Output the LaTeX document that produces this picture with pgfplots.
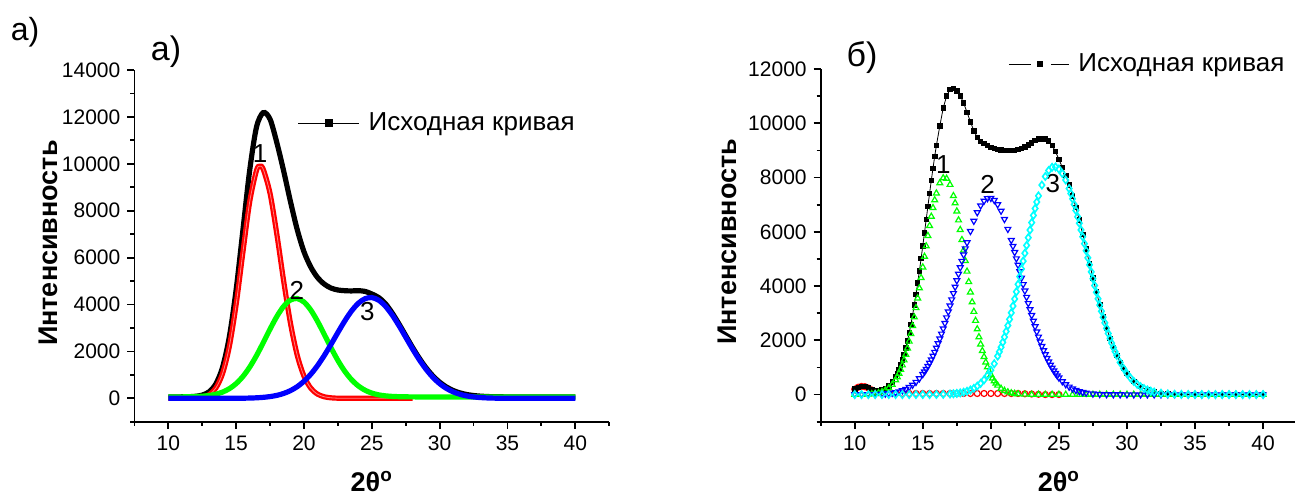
\documentclass[border=0pt]{standalone}
\usepackage{pgfplots}
\pgfplotsset{compat=1.18}
\usepackage{pgfplotstable}
\usepackage{fontspec}
\setmainfont{Liberation Sans}
\definecolor{cR}{RGB}{255,0,0}
\definecolor{cG}{RGB}{0,255,0}
\definecolor{cB}{RGB}{0,0,255}
\definecolor{cC}{RGB}{0,255,255}

% ---------- left panel data ----------
\pgfplotstableread{
x y
10 0
10.5 0
11 1
11.5 3
12 12
12.5 47
13 154
13.5 435
14 1057
14.5 2214
15 4000
15.5 6235
16 8382
16.5 9719
16.75 9900
17 9763
17.5 8737
18 6996
18.5 5012
19 3215
19.5 1843
20 947
20.5 435
21 179
21.5 66
22 22
22.5 6
23 2
24 0
26 0
28 0
}\redL

\pgfplotstableread{
x y
10 60
10.5 61
11 63
11.5 67
12 75
12.5 91
13 121
13.5 175
14 267
14.5 412
15 628
15.5 933
16 1333
16.5 1822
17 2377
17.5 2953
18 3490
18.5 3923
19 4191
19.5 4256
20 4107
20.5 3767
21 3284
21.5 2723
22 2149
22.5 1616
23 1161
23.5 800
24 532
24.5 346
25 224
25.5 150
26 107
26.5 83
27 71
27.5 65
28 62
28.5 61
29 60
30 60
35 60
40 60
}\greenL

\pgfplotstableread{
x y
10 0
12 0
14 1
15 3
15.5 6
16 12
16.5 23
17 43
17.5 75
18 127
18.5 208
19 328
19.5 497
20 728
20.5 1027
21 1396
21.5 1829
22 2308
22.5 2808
23 3293
23.5 3720
24 4050
24.5 4249
25 4297
25.5 4187
26 3932
26.5 3558
27 3103
27.5 2608
28 2112
28.5 1649
29 1240
29.5 899
30 628
30.5 423
31 274
31.5 172
32 103
32.5 60
33 34
33.5 18
34 9
34.5 4
35 2
36 0
38 0
40 0
}\blueL

\pgfplotstableread{
x y
10 60
10.5 61
11 64
11.5 70
12 87
12.5 138
13 275
13.5 610
14 1324
14.5 2626
15 4631
15.5 7174
16 9727
16.5 11564
17 12183
17.5 11900
18 10900
18.5 9700
19 8400
19.5 7200
20 6250
20.5 5600
21 5150
21.5 4870
22 4700
22.5 4620
23 4590
23.5 4580
24 4590
24.5 4560
25 4450
25.5 4300
26 4039
26.5 3641
27 3174
27.5 2673
28 2174
28.5 1710
29 1300
29.5 959
30 688
30.5 483
31 334
31.5 232
32 163
32.5 120
33 94
33.5 78
34 69
35 62
36 60
40 60
}\blackL

% ---------- right panel data ----------
\pgfplotstableread{
x y
10 200
10.25 270
10.5 300
10.75 290
11 240
11.25 170
11.5 110
11.75 70
12 50
12.5 40
13 40
13.5 40
14 40
14.5 40
15 40
15.5 40
16 40
16.5 40
17 40
17.5 40
18 40
18.5 40
19 40
19.5 40
20 40
20.5 40
21 40
21.5 40
22 40
22.5 30
23 20
23.5 10
24 0
24.5 0
25 0
}\redR

\pgfplotstableread{
x y
10 202
10.25 273
10.5 306
10.75 300
11 256
11.25 197
11.5 155
11.75 144
12 168
12.25 230
12.5 323
12.75 464
13 659
13.125 783
13.25 925
13.375 1088
13.5 1274
13.625 1483
13.75 1718
13.875 1981
14 2269
14.125 2586
14.25 2930
14.375 3300
14.5 3696
14.625 4116
14.75 4555
14.875 5012
15 5487
15.125 5968
15.25 6454
15.375 6942
15.5 7423
15.625 7895
15.75 8349
15.875 8781
16 9188
16.25 9902
16.5 10563
16.75 11005
17 11252
17.25 11288
17.5 11198
17.75 11010
18 10751
18.25 10407
18.5 10057
18.75 9725
19 9480
19.25 9340
19.5 9260
19.75 9190
20 9120
20.25 9070
20.5 9040
20.75 9015
21 9000
21.25 8995
21.5 8995
21.75 9010
22 9040
22.25 9075
22.5 9125
22.75 9200
23 9284
23.25 9365
23.5 9419
23.75 9431
24 9429
24.25 9359
24.5 9182
24.75 8958
25 8675
25.25 8375
25.5 8083
25.75 7731
26 7332
26.25 6897
26.5 6435
26.75 5904
27 5365
27.25 4828
27.5 4302
27.75 3794
28 3314
28.25 2863
28.5 2450
28.75 2076
29 1740
29.25 1443
29.5 1185
29.75 964
30 775
30.5 487
31 293
31.5 170
32 94
32.5 51
33 26
33.5 13
34 7
35 0
36 0
37 0
38 0
39 0
40 0
}\blackR

\pgfplotstableread{
x y
10 1
10.5 4
11 12
11.25 21
11.5 36
11.75 60
12 98
12.25 156
12.5 242
12.75 366
13 539
13.125 648
13.25 774
13.375 918
13.5 1083
13.625 1268
13.75 1475
13.875 1706
14 1959
14.125 2236
14.25 2535
14.375 2855
14.5 3195
14.625 3553
14.75 3924
14.875 4306
15 4696
15.125 5087
15.25 5474
15.375 5854
15.5 6219
15.625 6564
15.75 6883
15.875 7171
16 7422
16.25 7798
16.5 7983
16.75 7963
17 7738
17.25 7326
17.375 7060
17.5 6759
17.625 6429
17.75 6075
17.875 5704
18 5320
18.125 4930
18.25 4540
18.375 4153
18.5 3774
18.625 3408
18.75 3057
18.875 2725
19 2413
19.125 2122
19.25 1855
19.375 1611
19.5 1390
19.625 1191
19.75 1014
19.875 858
20 722
20.125 603
20.25 500
20.375 412
20.5 338
20.75 222
21 142
21.25 89
21.5 54
21.75 32
22 18
22.5 5
23 1
23.5 0
24 0
24.5 0
25 0
25.5 0
26 0
26.5 0
27 0
27.5 0
28 0
28.5 0
29 0
29.5 0
30 0
30.5 0
31 0
31.5 0
32 0
32.5 0
33 0
33.5 0
34 0
34.5 0
35 0
35.5 0
36 0
36.5 0
37 0
37.5 0
38 0
38.5 0
39 0
39.5 0
40 0
}\greenR

\pgfplotstableread{
x y
10 1
10.5 2
11 4
11.5 9
12 20
12.25 29
12.5 41
12.75 58
13 80
13.25 111
13.5 151
13.75 203
14 270
14.25 355
14.5 461
14.75 591
15 750
15.125 840
15.25 939
15.375 1047
15.5 1163
15.625 1289
15.75 1424
15.875 1567
16 1722
16.125 1886
16.25 2058
16.375 2240
16.5 2431
16.625 2630
16.75 2838
16.875 3053
17 3274
17.125 3502
17.25 3733
17.375 3969
17.5 4206
17.625 4445
17.75 4684
17.875 4921
18 5154
18.125 5383
18.25 5605
18.5 6024
18.75 6398
19 6716
19.25 6967
19.5 7141
19.75 7235
20 7243
20.25 7167
20.5 7007
20.75 6772
21 6466
21.25 6102
21.5 5692
21.625 5473
21.75 5246
21.875 5015
22 4779
22.125 4541
22.25 4301
22.375 4064
22.5 3827
22.625 3594
22.75 3365
22.875 3141
23 2923
23.125 2713
23.25 2510
23.375 2316
23.5 2130
23.625 1953
23.75 1786
23.875 1628
24 1480
24.125 1341
24.25 1212
24.375 1092
24.5 981
24.625 879
24.75 785
24.875 699
25 620
25.25 484
25.5 374
25.75 286
26 215
26.25 160
26.5 118
26.75 86
27 62
27.5 31
28 15
28.5 7
29 3
29.5 1
30 0
30.5 0
31 0
31.5 0
32 0
32.5 0
33 0
33.5 0
34 0
34.5 0
35 0
35.5 0
36 0
36.5 0
37 0
37.5 0
38 0
38.5 0
39 0
39.5 0
40 0
}\blueR

\pgfplotstableread{
x y
10 0
10.5 0
11 0
11.5 0
12 0
12.5 0
13 0
13.5 0
14 0
14.5 0
15 1
15.5 1
16 4
16.5 9
17 20
17.25 29
17.5 43
17.75 61
18 87
18.25 122
18.5 169
18.75 230
19 311
19.25 413
19.5 542
19.75 703
20 900
20.25 1137
20.5 1418
20.625 1576
20.75 1746
20.875 1927
21 2121
21.125 2327
21.25 2544
21.375 2774
21.5 3014
21.625 3264
21.75 3524
21.875 3791
22 4066
22.125 4348
22.25 4633
22.375 4921
22.5 5211
22.625 5499
22.75 5785
22.875 6066
23 6341
23.125 6606
23.25 6860
23.375 7101
23.5 7327
23.75 7725
24 8041
24.25 8262
24.5 8381
24.75 8393
25 8315
25.25 8151
25.5 7909
25.75 7595
25.875 7413
26 7217
26.125 7008
26.25 6787
26.375 6556
26.5 6317
26.625 6070
26.75 5818
26.875 5562
27 5303
27.125 5042
27.25 4783
27.375 4525
27.5 4271
27.625 4019
27.75 3772
27.875 3532
28 3299
28.125 3072
28.25 2853
28.375 2644
28.5 2443
28.625 2252
28.75 2071
28.875 1899
29 1737
29.125 1584
29.25 1441
29.5 1184
29.75 963
30 774
30.25 617
30.5 486
30.75 379
31 292
31.25 223
31.5 169
31.75 126
32 93
32.5 50
33 25
33.5 12
34 6
34.5 3
35 1
35.5 0
36 0
36.5 0
37 0
37.5 0
38 0
38.5 0
39 0
39.5 0
40 0
}\cyanR

\tikzset{numlab/.style={font=\fontsize{13}{15}\selectfont, inner sep=0pt}}

\pgfplotsset{
  panel/.style={
    scale only axis,
    anchor=south west,
    axis x line*=bottom, axis y line*=left,
    xmin=7.5, xmax=42.5, ymin=-1000,
    xtick={10,15,...,40},
    minor xtick={7.5,12.5,...,42.5},
    tick align=outside,
    major tick length=3.5pt, minor tick length=2pt,
    axis line style={line width=0.9pt},
    every tick/.style={black, line width=0.9pt},
    every minor tick/.style={black, line width=0.9pt},
    scaled ticks=false,
    /pgf/number format/1000 sep={},
    /pgf/number format/assume math mode=true,
    tick label style={font=\fontsize{10.5}{12}\selectfont},
    xlabel={2θ\textsuperscript{o}},
    ylabel={Интенсивность},
    clip=false,
    legend style={draw=none, fill=none, anchor=west, inner xsep=0pt, inner ysep=0pt,
      nodes={inner sep=0pt}, column sep=4.5pt, font=\fontsize{13}{15}\selectfont},
  },
}

\begin{document}
\begin{tikzpicture}
\path[use as bounding box] (0,0) rectangle (647.5pt,248.5pt);

\node[font=\fontsize{16}{18}\selectfont, inner sep=0pt] at (12.5pt,232.5pt) {а)};
\node[font=\fontsize{17}{19}\selectfont, inner sep=0pt] at (83pt,222.5pt) {а)};
\node[font=\fontsize{17}{19}\selectfont, inner sep=0pt] at (431pt,219.5pt) {б)};

% ---------------- left panel ----------------
\begin{axis}[panel,
  at={(67.2pt,37.6pt)}, width=237.4pt, height=175.9pt,
  ymax=14000,
  ytick={0,2000,...,14000},
  minor ytick={-1000,1000,...,13000},
  every axis x label/.style={at={(axis description cs:0.5,-0.17)}, anchor=center,
    font=\fontsize{13.5}{16}\selectfont\bfseries},
  every axis y label/.style={at={(axis description cs:-0.182,0.508)}, rotate=90, anchor=center,
    font=\fontsize{13.5}{16}\selectfont\bfseries},
  legend style={at={(axis description cs:0.3425,0.849)}},
  legend image code/.code={
    \draw[black, line width=0.6pt] (0pt,0pt) -- (30.5pt,0pt);
    \fill[black] (14.7pt,-0.8pt) rectangle (16.3pt,0.8pt);
  },
]
\addplot[black, line width=2.6pt, smooth] table {\blackL};
\addlegendentry{Исходная кривая}
\addplot[cR, line width=2.6pt, smooth, forget plot] table {\redL};
\addplot[color={rgb,255:red,255;green,130;blue,130}, line width=0.4pt, smooth, forget plot] table {\redL};
\addplot[cG, line width=2.6pt, smooth, forget plot] table {\greenL};
\addplot[cB, line width=2.6pt, smooth, forget plot] table {\blueL};
\node[numlab] at (axis cs:16.76,10448) {1};
\node[numlab] at (axis cs:19.47,4618) {2};
\node[numlab] at (axis cs:24.68,3693) {3};
\end{axis}

% ---------------- right panel ----------------
\begin{axis}[panel,
  at={(410.35pt,37.65pt)}, width=238.2pt, height=176.3pt,
  ymax=12000,
  ytick={0,2000,...,12000},
  minor ytick={-1000,1000,...,11000},
  every axis x label/.style={at={(axis description cs:0.5,-0.17)}, anchor=center,
    font=\fontsize{13.5}{16}\selectfont\bfseries},
  every axis y label/.style={at={(axis description cs:-0.197,0.51)}, rotate=90, anchor=center,
    font=\fontsize{13.5}{16}\selectfont\bfseries},
  legend style={at={(axis description cs:0.393,1.014)}},
  legend image code/.code={
    \draw[black, line width=0.5pt] (0pt,0pt) -- (11pt,0pt);
    \draw[black, line width=0.5pt] (21pt,0pt) -- (30pt,0pt);
    \fill[black] (14.2pt,-1.3pt) rectangle (16.8pt,1.3pt);
  },
]
\addplot[cR, only marks, mark=o, mark size=1.5pt, mark options={line width=0.6pt}, forget plot] table {\redR};
\addplot[black, line width=0.4pt, mark=square*, mark size=1.1pt] table {\blackR};
\addlegendentry{Исходная кривая}
\addplot[cG, only marks, mark=triangle, mark size=1.7pt, mark options={line width=0.6pt}, forget plot] table {\greenR};
\addplot[cB, only marks, mark=triangle, mark size=1.7pt, mark options={rotate=180, line width=0.6pt}, forget plot] table {\blueR};
\addplot[cC, only marks, mark=diamond, mark size=1.8pt, mark options={line width=0.8pt}, forget plot] table {\cyanR};
\node[numlab] at (axis cs:16.51,8467) {1};
\node[numlab] at (axis cs:19.77,7732) {2};
\node[numlab] at (axis cs:24.55,7794) {3};
\end{axis}
\end{tikzpicture}
\end{document}
